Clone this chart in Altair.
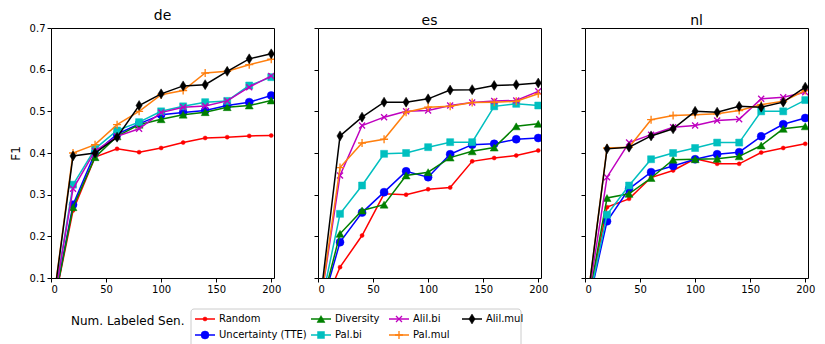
import altair as alt
import pandas as pd

FONT = "DejaVu Sans"

x_vals = [0, 20, 40, 60, 80, 100, 120, 140, 160, 180, 200]
methods = ["Random", "Uncertainty (TTE)", "Diversity", "Pal.bi", "Alil.bi", "Pal.mul", "Alil.mul"]
colors = ["#ff0000", "#0000ff", "#008000", "#00bfbf", "#bf00bf", "#ff7f0e", "#000000"]

X_PATH = "M-1,-1L1,1M-1,1L1,-1"
PLUS_PATH = "M-1,0L1,0M0,-1L0,1"
DIAMOND_PATH = "M0,-1L0.62,0L0,1L-0.62,0Z"
shapes = ["circle", "circle", "triangle-up", "square", X_PATH, PLUS_PATH, DIAMOND_PATH]
sizes = [16, 64, 64, 49, 36, 64, 100]
filled = [True, True, True, True, False, False, True]

de_random = [0, 0.262, 0.390, 0.410, 0.402, 0.412, 0.425, 0.436, 0.438, 0.441, 0.442]
de_uncert = [0, 0.276, 0.400, 0.445, 0.470, 0.492, 0.497, 0.502, 0.514, 0.522, 0.538]
de_divers = [0, 0.270, 0.390, 0.440, 0.468, 0.481, 0.492, 0.498, 0.510, 0.514, 0.526]
de_palbi = [0, 0.324, 0.410, 0.454, 0.474, 0.500, 0.512, 0.522, 0.525, 0.562, 0.582]
de_alilbi = [0, 0.314, 0.405, 0.440, 0.458, 0.497, 0.510, 0.513, 0.525, 0.558, 0.585]
de_palmul = [0, 0.400, 0.420, 0.468, 0.500, 0.540, 0.550, 0.592, 0.596, 0.612, 0.625]
de_alilmul = [0, 0.393, 0.400, 0.438, 0.514, 0.542, 0.561, 0.564, 0.596, 0.626, 0.638]

es_random = [0, 0.126, 0.202, 0.302, 0.300, 0.313, 0.317, 0.380, 0.388, 0.394, 0.406]
es_uncert = [0, 0.186, 0.257, 0.306, 0.356, 0.342, 0.397, 0.420, 0.422, 0.433, 0.436]
es_divers = [0, 0.206, 0.262, 0.276, 0.346, 0.354, 0.389, 0.404, 0.413, 0.464, 0.470]
es_palbi = [0, 0.254, 0.322, 0.398, 0.400, 0.414, 0.426, 0.426, 0.512, 0.518, 0.514]
es_alilbi = [0, 0.346, 0.466, 0.486, 0.500, 0.502, 0.514, 0.521, 0.525, 0.526, 0.548]
es_palmul = [0, 0.365, 0.424, 0.433, 0.498, 0.510, 0.512, 0.521, 0.522, 0.524, 0.542]
es_alilmul = [0, 0.441, 0.486, 0.522, 0.522, 0.530, 0.551, 0.552, 0.562, 0.564, 0.568]

nl_random = [0, 0.270, 0.290, 0.341, 0.358, 0.386, 0.374, 0.374, 0.401, 0.412, 0.422]
nl_uncert = [0, 0.236, 0.314, 0.354, 0.369, 0.385, 0.397, 0.402, 0.440, 0.469, 0.484]
nl_divers = [0, 0.292, 0.302, 0.340, 0.384, 0.385, 0.386, 0.392, 0.418, 0.458, 0.464]
nl_palbi = [0, 0.252, 0.322, 0.385, 0.400, 0.412, 0.425, 0.425, 0.500, 0.500, 0.527]
nl_alilbi = [0, 0.342, 0.425, 0.444, 0.462, 0.466, 0.478, 0.481, 0.530, 0.534, 0.546]
nl_palmul = [0, 0.412, 0.414, 0.480, 0.490, 0.492, 0.494, 0.502, 0.516, 0.524, 0.550]
nl_alilmul = [0, 0.410, 0.414, 0.441, 0.458, 0.500, 0.498, 0.512, 0.510, 0.522, 0.558]

panels_data = {
    "de": [de_random, de_uncert, de_divers, de_palbi, de_alilbi, de_palmul, de_alilmul],
    "es": [es_random, es_uncert, es_divers, es_palbi, es_alilbi, es_palmul, es_alilmul],
    "nl": [nl_random, nl_uncert, nl_divers, nl_palbi, nl_alilbi, nl_palmul, nl_alilmul],
}

y_ticks = [0.1, 0.2, 0.3, 0.4, 0.5, 0.6, 0.7]
x_ticks = [0, 50, 100, 150, 200]
x_label = "Num. Labeled Sen."

PW, PH = 223, 250
ONE = pd.DataFrame({"k": [0]})


def point_mark(i, data, **kw):
    if filled[i]:
        return alt.Chart(data).mark_point(shape=shapes[i], size=sizes[i], filled=True,
                                          fill=colors[i], stroke=colors[i], strokeWidth=0.5,
                                          opacity=1, **kw)
    return alt.Chart(data).mark_point(shape=shapes[i], size=sizes[i], filled=False,
                                      stroke=colors[i], strokeWidth=1.3, opacity=1, **kw)


def legend_layers():
    # matplotlib-style legend drawn below the first panel (pixel offsets from its plot origin)
    col_x = [144, 260, 338, 411]
    row_y = [291, 307]
    out = [alt.Chart(ONE).mark_rect(fill="white", stroke="#cccccc", strokeWidth=1, cornerRadius=3).encode(
        x=alt.value(140), x2=alt.value(470), y=alt.value(281), y2=alt.value(325))]
    for i, m in enumerate(methods):
        c, r = divmod(i, 2)
        x0, y0 = col_x[c], row_y[r]
        out.append(alt.Chart(ONE).mark_rule(color=colors[i], strokeWidth=1.5).encode(
            x=alt.value(x0), x2=alt.value(x0 + 20), y=alt.value(y0)))
        out.append(point_mark(i, ONE).encode(x=alt.value(x0 + 10), y=alt.value(y0)))
        out.append(alt.Chart(ONE).mark_text(align="left", baseline="middle", font=FONT, fontSize=10,
                                            color="black", text=m).encode(
            x=alt.value(x0 + 24), y=alt.value(y0)))
    out.append(alt.Chart(ONE).mark_text(align="left", baseline="middle", font=FONT, fontSize=12,
                                        color="black", text=x_label).encode(
        x=alt.value(20), y=alt.value(293)))
    return out


def panel(lang, first):
    layers = []
    xenc = alt.X("x:Q", scale=alt.Scale(domain=[0, 202.5], nice=False, zero=False),
                 axis=alt.Axis(values=x_ticks, title=None))
    yenc = alt.Y("F1:Q", scale=alt.Scale(domain=[0.1, 0.7], nice=False, zero=False),
                 axis=alt.Axis(values=y_ticks, format=".1f",
                               title="F1" if first else None, labels=first))
    for i, m in enumerate(methods):
        df = pd.DataFrame({"x": x_vals, "F1": panels_data[lang][i]})
        line = alt.Chart(df).mark_line(color=colors[i], strokeWidth=1.5, clip=True).encode(xenc, yenc)
        pts = point_mark(i, df, clip=True).transform_filter("datum.x > 0").encode(xenc, yenc)
        layers += [line, pts]
    if first:
        layers += legend_layers()
    return alt.layer(*layers).properties(width=PW, height=PH,
                                         title=alt.TitleParams(lang, fontSize=14, fontWeight="normal",
                                                               font=FONT, color="black", offset=0))


chart = alt.hconcat(panel("de", True), panel("es", False), panel("nl", False),
                    spacing=44, bounds="flush").properties(
    padding=0
).configure_axis(
    labelFont=FONT, labelFontSize=10, labelColor="black", tickColor="black", tickSize=4,
    domain=False, grid=False, titleFont=FONT, titleFontSize=12, titleFontWeight="normal",
    titleColor="black", labelPadding=2, titlePadding=7
).configure_view(stroke="black", strokeWidth=1)

chart.save("out.html", embed_options={"renderer": "svg", "actions": False})
